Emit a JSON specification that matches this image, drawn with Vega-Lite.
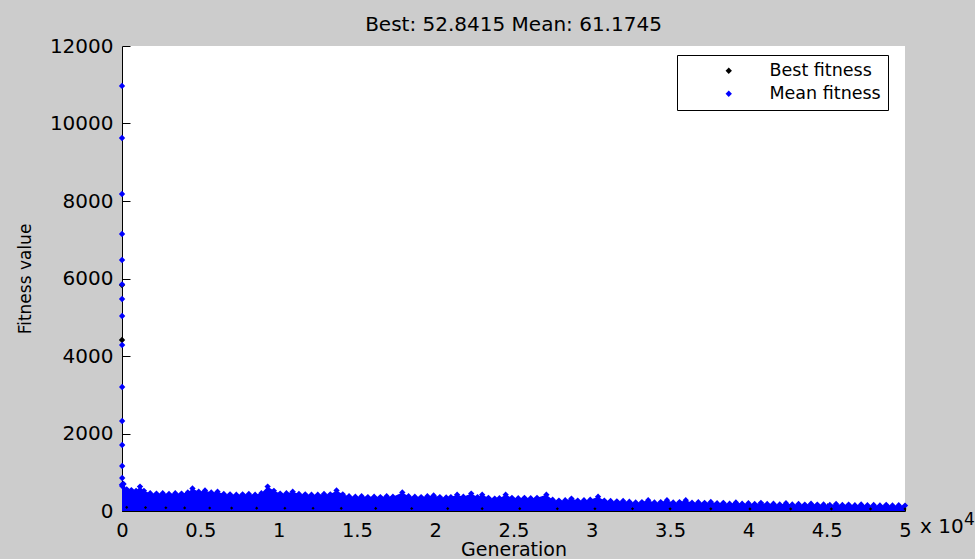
{
  "$schema": "https://vega.github.io/schema/vega-lite/v6.json",
  "width": 783,
  "height": 465,
  "autosize": {"type": "none"},
  "padding": {"left": 122, "top": 46, "right": 70, "bottom": 48},
  "background": "#cccccc",
  "config": {
    "view": {"fill": "white", "stroke": null},
    "font": "DejaVu Sans",
    "axis": {
      "grid": false,
      "domainColor": "black",
      "domainWidth": 1,
      "tickColor": "black",
      "tickSize": -8,
      "labelColor": "black",
      "labelFontSize": 20,
      "labelFont": "DejaVu Sans",
      "titleColor": "black",
      "titleFont": "DejaVu Sans",
      "titleFontWeight": "normal",
      "labelFlush": false,
      "labelOverlap": false
    }
  },
  "title": {
    "text": "Best: 52.8415 Mean: 61.1745",
    "font": "DejaVu Sans",
    "fontSize": 20,
    "fontWeight": "normal",
    "color": "black",
    "anchor": "middle",
    "baseline": "alphabetic",
    "offset": 6,
    "dy": 21
  },
  "datasets": {
    "envelope": [
      {"generation": 0, "fitness": 680}, {"generation": 100, "fitness": 700}, {"generation": 300, "fitness": 560},
      {"generation": 600, "fitness": 540}, {"generation": 900, "fitness": 520}, {"generation": 1150, "fitness": 630},
      {"generation": 1400, "fitness": 520}, {"generation": 1800, "fitness": 460}, {"generation": 2200, "fitness": 450},
      {"generation": 2600, "fitness": 460}, {"generation": 3000, "fitness": 440}, {"generation": 3400, "fitness": 460},
      {"generation": 3800, "fitness": 450}, {"generation": 4200, "fitness": 480}, {"generation": 4500, "fitness": 580},
      {"generation": 4900, "fitness": 500}, {"generation": 5300, "fitness": 530}, {"generation": 5700, "fitness": 480},
      {"generation": 6100, "fitness": 500}, {"generation": 6500, "fitness": 440}, {"generation": 6900, "fitness": 430},
      {"generation": 7300, "fitness": 420}, {"generation": 7700, "fitness": 430}, {"generation": 8100, "fitness": 440},
      {"generation": 8500, "fitness": 420}, {"generation": 8900, "fitness": 460}, {"generation": 9300, "fitness": 630},
      {"generation": 9700, "fitness": 520}, {"generation": 10100, "fitness": 450}, {"generation": 10500, "fitness": 460},
      {"generation": 10900, "fitness": 500}, {"generation": 11300, "fitness": 440}, {"generation": 11700, "fitness": 430},
      {"generation": 12100, "fitness": 420}, {"generation": 12500, "fitness": 420}, {"generation": 12900, "fitness": 440},
      {"generation": 13300, "fitness": 430}, {"generation": 13700, "fitness": 530}, {"generation": 14100, "fitness": 430},
      {"generation": 14500, "fitness": 380}, {"generation": 14900, "fitness": 370}, {"generation": 15300, "fitness": 380},
      {"generation": 15700, "fitness": 360}, {"generation": 16100, "fitness": 370}, {"generation": 16500, "fitness": 360},
      {"generation": 16900, "fitness": 380}, {"generation": 17300, "fitness": 370}, {"generation": 17900, "fitness": 480},
      {"generation": 18300, "fitness": 380}, {"generation": 18700, "fitness": 370}, {"generation": 19100, "fitness": 360},
      {"generation": 19500, "fitness": 380}, {"generation": 19900, "fitness": 400}, {"generation": 20300, "fitness": 360},
      {"generation": 20700, "fitness": 350}, {"generation": 21000, "fitness": 360}, {"generation": 21400, "fitness": 420},
      {"generation": 21800, "fitness": 370}, {"generation": 22300, "fitness": 450}, {"generation": 22700, "fitness": 360},
      {"generation": 23000, "fitness": 420}, {"generation": 23400, "fitness": 340}, {"generation": 23800, "fitness": 320},
      {"generation": 24100, "fitness": 330}, {"generation": 24500, "fitness": 420}, {"generation": 24900, "fitness": 340},
      {"generation": 25300, "fitness": 330}, {"generation": 25700, "fitness": 340}, {"generation": 26100, "fitness": 330},
      {"generation": 26500, "fitness": 340}, {"generation": 27100, "fitness": 420}, {"generation": 27500, "fitness": 290},
      {"generation": 27900, "fitness": 270}, {"generation": 28300, "fitness": 280}, {"generation": 28700, "fitness": 320},
      {"generation": 29100, "fitness": 270}, {"generation": 29500, "fitness": 280}, {"generation": 29900, "fitness": 290},
      {"generation": 30400, "fitness": 370}, {"generation": 30800, "fitness": 270}, {"generation": 31200, "fitness": 260},
      {"generation": 31600, "fitness": 250}, {"generation": 32000, "fitness": 260}, {"generation": 32400, "fitness": 240},
      {"generation": 32800, "fitness": 220}, {"generation": 33200, "fitness": 230}, {"generation": 33600, "fitness": 280},
      {"generation": 34000, "fitness": 220}, {"generation": 34400, "fitness": 230}, {"generation": 34800, "fitness": 280},
      {"generation": 35200, "fitness": 220}, {"generation": 35600, "fitness": 230}, {"generation": 36000, "fitness": 280},
      {"generation": 36400, "fitness": 215}, {"generation": 36800, "fitness": 225}, {"generation": 37200, "fitness": 210},
      {"generation": 37600, "fitness": 235}, {"generation": 38000, "fitness": 200}, {"generation": 38400, "fitness": 210},
      {"generation": 38800, "fitness": 190}, {"generation": 39200, "fitness": 220}, {"generation": 39600, "fitness": 190},
      {"generation": 40000, "fitness": 200}, {"generation": 40400, "fitness": 180}, {"generation": 40800, "fitness": 210},
      {"generation": 41200, "fitness": 180}, {"generation": 41600, "fitness": 190}, {"generation": 42000, "fitness": 170},
      {"generation": 42400, "fitness": 200}, {"generation": 42800, "fitness": 170}, {"generation": 43200, "fitness": 180},
      {"generation": 43600, "fitness": 165}, {"generation": 44000, "fitness": 190}, {"generation": 44400, "fitness": 165},
      {"generation": 44800, "fitness": 170}, {"generation": 45200, "fitness": 155}, {"generation": 45600, "fitness": 180},
      {"generation": 46000, "fitness": 155}, {"generation": 46400, "fitness": 165}, {"generation": 46800, "fitness": 150},
      {"generation": 47200, "fitness": 170}, {"generation": 47600, "fitness": 150}, {"generation": 48000, "fitness": 155},
      {"generation": 48400, "fitness": 145}, {"generation": 48800, "fitness": 160}, {"generation": 49200, "fitness": 145},
      {"generation": 49600, "fitness": 150}, {"generation": 50000, "fitness": 140}
    ],
    "points": [
      {"series": "Best fitness", "generation": 0, "fitness": 5830},
      {"series": "Best fitness", "generation": 1, "fitness": 4413},
      {"series": "Mean fitness", "generation": 0, "fitness": 10970},
      {"series": "Mean fitness", "generation": 1, "fitness": 9626},
      {"series": "Mean fitness", "generation": 2, "fitness": 8180},
      {"series": "Mean fitness", "generation": 3, "fitness": 7148},
      {"series": "Mean fitness", "generation": 4, "fitness": 6477},
      {"series": "Mean fitness", "generation": 5, "fitness": 5850},
      {"series": "Mean fitness", "generation": 6, "fitness": 5471},
      {"series": "Mean fitness", "generation": 7, "fitness": 5032},
      {"series": "Mean fitness", "generation": 8, "fitness": 4284},
      {"series": "Mean fitness", "generation": 9, "fitness": 3200},
      {"series": "Mean fitness", "generation": 10, "fitness": 2323},
      {"series": "Mean fitness", "generation": 11, "fitness": 1703},
      {"series": "Mean fitness", "generation": 12, "fitness": 1161},
      {"series": "Mean fitness", "generation": 13, "fitness": 852},
      {"series": "Mean fitness", "generation": 14, "fitness": 645}
    ],
    "best": [
      {"generation": 300, "fitness": 95}, {"generation": 1500, "fitness": 88}, {"generation": 2800, "fitness": 84},
      {"generation": 4000, "fitness": 80}, {"generation": 5600, "fitness": 78}, {"generation": 7000, "fitness": 75},
      {"generation": 8600, "fitness": 73}, {"generation": 10400, "fitness": 71}, {"generation": 12200, "fitness": 70},
      {"generation": 14000, "fitness": 68}, {"generation": 16200, "fitness": 66}, {"generation": 18500, "fitness": 64},
      {"generation": 20800, "fitness": 63}, {"generation": 23000, "fitness": 61}, {"generation": 25400, "fitness": 60},
      {"generation": 27800, "fitness": 59}, {"generation": 30200, "fitness": 58}, {"generation": 32600, "fitness": 57},
      {"generation": 35000, "fitness": 56}, {"generation": 37600, "fitness": 55}, {"generation": 40100, "fitness": 54.5},
      {"generation": 42700, "fitness": 54}, {"generation": 45300, "fitness": 53.5}, {"generation": 47800, "fitness": 53},
      {"generation": 50000, "fitness": 52.84}
    ],
    "notes": [{"label": "x 10", "exp": "4"}]
  },
  "layer": [
    {
      "data": {"name": "envelope"},
      "mark": {"type": "area", "color": "#0000ff", "opacity": 1},
      "encoding": {
        "x": {
          "field": "generation", "type": "quantitative",
          "scale": {"domain": [0, 50000], "nice": false, "zero": false},
          "axis": {
            "values": [0, 5000, 10000, 15000, 20000, 25000, 30000, 35000, 40000, 45000, 50000],
            "labelExpr": "'' + datum.value / 10000",
            "labelFontSize": 19.5,
            "title": "Generation",
            "titleFontSize": 19,
            "labelPadding": 18,
            "titlePadding": 1
          }
        },
        "y": {
          "field": "fitness", "type": "quantitative", "stack": null,
          "scale": {"domain": [0, 12000], "nice": false},
          "axis": {
            "values": [0, 2000, 4000, 6000, 8000, 10000, 12000],
            "format": "d",
            "title": "Fitness value",
            "titleFontSize": 17,
            "labelPadding": 17,
            "titlePadding": 15
          }
        }
      }
    },
    {
      "data": {"name": "envelope"},
      "mark": {"type": "point", "shape": "diamond", "filled": true, "color": "#0000ff", "size": 40, "opacity": 1},
      "encoding": {
        "x": {"field": "generation", "type": "quantitative"},
        "y": {"field": "fitness", "type": "quantitative"}
      }
    },
    {
      "data": {"name": "best"},
      "mark": {"type": "point", "shape": "diamond", "filled": true, "color": "#000000", "size": 10, "opacity": 1},
      "encoding": {
        "x": {"field": "generation", "type": "quantitative"},
        "y": {"field": "fitness", "type": "quantitative"}
      }
    },
    {
      "data": {"name": "points"},
      "mark": {"type": "point", "shape": "diamond", "filled": true, "size": 40, "opacity": 1},
      "encoding": {
        "x": {"field": "generation", "type": "quantitative"},
        "y": {"field": "fitness", "type": "quantitative"},
        "color": {
          "field": "series", "type": "nominal",
          "scale": {"domain": ["Best fitness", "Mean fitness"], "range": ["#000000", "#0000ff"]},
          "legend": {
            "title": null,
            "orient": "none",
            "legendX": 555,
            "legendY": 9,
            "strokeColor": "black",
            "fillColor": "white",
            "padding": 7,
            "labelFontSize": 17.5,
            "labelFont": "DejaVu Sans",
            "labelColor": "black",
            "symbolOffset": 36,
            "labelOffset": 32,
            "rowPadding": 4,
            "symbolSize": 40,
            "symbolType": "diamond"
          }
        }
      }
    },
    {
      "data": {"name": "notes"},
      "mark": {"type": "text", "align": "left", "baseline": "alphabetic", "fontSize": 20, "font": "DejaVu Sans", "color": "black", "dx": 15, "dy": 22},
      "encoding": {
        "x": {"datum": 50000, "type": "quantitative"},
        "y": {"datum": 0, "type": "quantitative"},
        "text": {"field": "label"}
      }
    },
    {
      "data": {"name": "notes"},
      "mark": {"type": "text", "align": "left", "baseline": "alphabetic", "fontSize": 17, "font": "DejaVu Sans", "color": "black", "dx": 59, "dy": 14},
      "encoding": {
        "x": {"datum": 50000, "type": "quantitative"},
        "y": {"datum": 0, "type": "quantitative"},
        "text": {"field": "exp"}
      }
    }
  ]
}
